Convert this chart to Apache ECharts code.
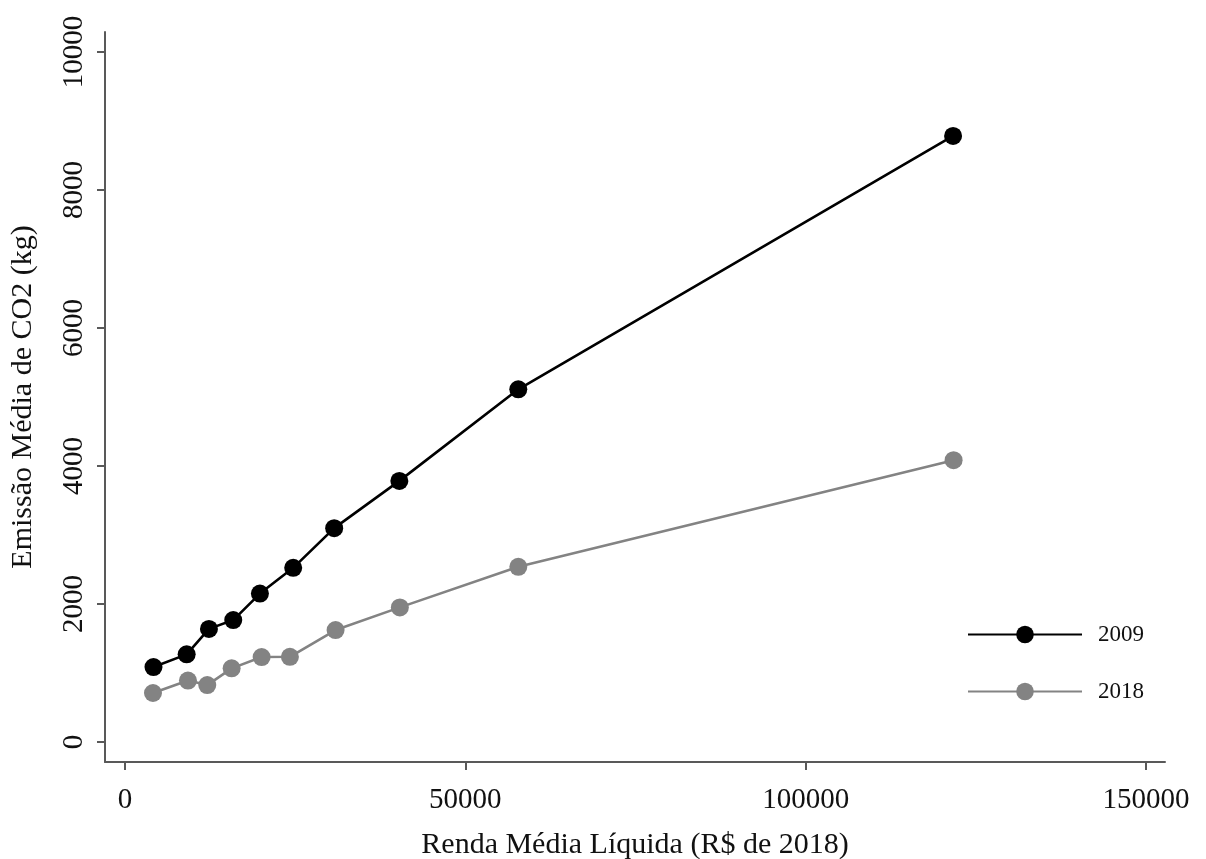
<!DOCTYPE html>
<html>
<head>
<meta charset="utf-8">
<script src="https://cdn.jsdelivr.net/npm/echarts@6/dist/echarts.min.js"></script>
<style>
  html, body { margin: 0; padding: 0; background: #fff; }
  #chart { width: 1206px; height: 859px; }
</style>
</head>
<body>
<div id="chart"></div>
<script>
// Renda média líquida (R$ de 2018) por faixa, e emissão média de CO2 (kg)
const renda2009 = [4185, 9060, 12335, 15903, 19823, 24713, 30734, 40308, 57782, 121657];
const emissao2009 = [1086, 1270, 1639, 1767, 2151, 2524, 3099, 3784, 5112, 8783];
const renda2018 = [4112, 9251, 12085, 15668, 20073, 24229, 30939, 40381, 57782, 121731];
const emissao2018 = [710, 891, 825, 1067, 1231, 1235, 1622, 1951, 2539, 4084];
const seriesNames = ['2009', '2018'];
const xTicks = [0, 50000, 100000, 150000];
const yTicks = [0, 2000, 4000, 6000, 8000, 10000];

const pairs = (xs, ys) => xs.map((x, i) => [x, ys[i]]);
const plain = v => String(v);

const serif = '"Liberation Serif", "DejaVu Serif", serif';
const axisColor = '#595959';
const textColor = '#111';

const chart = echarts.init(document.getElementById('chart'), null, { renderer: 'canvas' });

chart.setOption({
  animation: false,
  backgroundColor: '#fff',
  grid: { left: 105, right: 41, top: 32, bottom: 97, containLabel: false, outerBoundsMode: 'none' },
  legend: {
    data: seriesNames,
    orient: 'vertical',
    left: 962,
    top: 618,
    itemWidth: 114,
    itemHeight: 22,
    itemGap: 34,
    textStyle: { fontFamily: serif, fontSize: 23, lineHeight: 22, color: textColor, padding: [0, 0, 0, 11] }
  },
  xAxis: {
    type: 'value',
    min: -2937,
    max: 152790,
    name: 'Renda Média Líquida (R$ de 2018)',
    nameLocation: 'middle',
    nameGap: 68,
    nameTextStyle: { fontFamily: serif, fontSize: 30, color: textColor },
    axisLine: { onZero: false, lineStyle: { color: axisColor, width: 2 } },
    axisTick: { customValues: xTicks, length: 8, lineStyle: { color: axisColor, width: 2 } },
    axisLabel: { customValues: xTicks, formatter: plain, margin: 24, fontFamily: serif, fontSize: 29, color: textColor },
    splitLine: { show: false }
  },
  yAxis: {
    type: 'value',
    min: -290,
    max: 10290,
    name: 'Emissão Média de CO2 (kg)',
    nameLocation: 'middle',
    nameGap: 67,
    nameRotate: 90,
    nameTextStyle: { fontFamily: serif, fontSize: 30, color: textColor },
    axisLine: { onZero: false, lineStyle: { color: axisColor, width: 2 } },
    axisTick: { customValues: yTicks, length: 8, lineStyle: { color: axisColor, width: 2 } },
    axisLabel: { customValues: yTicks, formatter: plain, rotate: 90, margin: 16, fontFamily: serif, fontSize: 29, color: textColor },
    splitLine: { show: false }
  },
  series: [
    {
      name: seriesNames[0],
      type: 'line',
      data: pairs(renda2009, emissao2009),
      symbol: 'circle',
      symbolSize: 18,
      itemStyle: { color: '#000' },
      lineStyle: { color: '#000', width: 2.6 },
      z: 3
    },
    {
      name: seriesNames[1],
      type: 'line',
      data: pairs(renda2018, emissao2018),
      symbol: 'circle',
      symbolSize: 18,
      itemStyle: { color: '#838383' },
      lineStyle: { color: '#838383', width: 2.6 },
      z: 2
    }
  ]
});
</script>
</body>
</html>
